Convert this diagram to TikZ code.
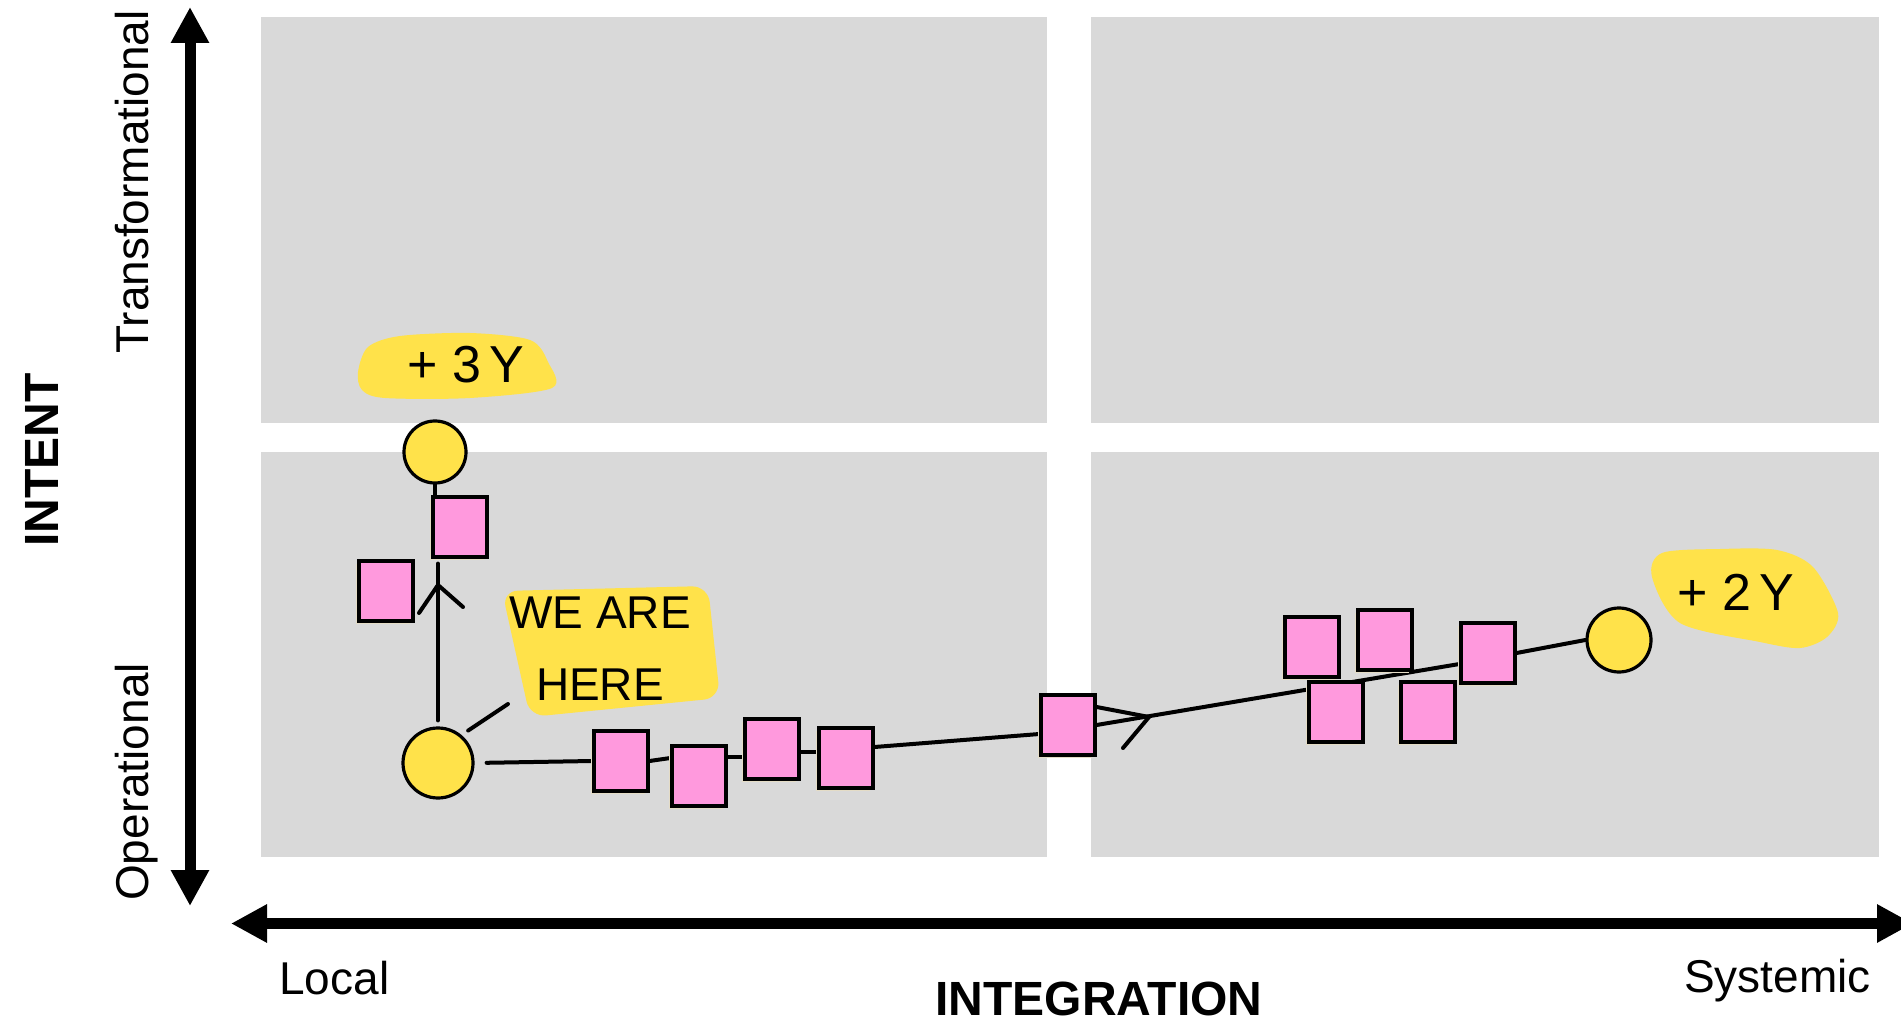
\documentclass[tikz,border=0pt]{standalone}
\usepackage{fontspec}
\setmainfont{Liberation Sans}
\usetikzlibrary{arrows.meta,backgrounds,shadows}
\definecolor{gryQ}{HTML}{D9D9D9}
\definecolor{pnk}{HTML}{FF99DD}
\definecolor{ylw}{HTML}{FFE24A}
\definecolor{bge}{HTML}{E4DCC6}
\tikzset{
  panel/.style  ={fill=gryQ},
  axis/.style   ={line width=5.5pt, {Triangle[length=18pt,width=18pt]}-{Triangle[length=18pt,width=18pt]}},
  axlbl/.style  ={font=\fontsize{23}{27}\selectfont, inner sep=0pt},
  axttl/.style  ={font=\fontsize{24}{28}\selectfont\bfseries, inner sep=0pt},
  hand/.style   ={font=\fontsize{23}{36}\selectfont, inner sep=0pt, align=center},
  sticky/.style ={draw=black, fill=pnk, line width=1.6pt, minimum width=27pt, minimum height=30pt,
                  inner sep=0pt, drop shadow={shadow xshift=-1.5pt, shadow yshift=-1.5pt, fill=bge, opacity=1}},
  spot/.style   ={circle, draw=black, fill=ylw, line width=1.6pt, inner sep=0pt, minimum size=#1},
  spot/.default =32pt,
  link/.style   ={line width=2pt, draw=black, line cap=round},
  hl/.style     ={fill=ylw},
}
\begin{document}
\begin{tikzpicture}[x=0.5pt,y=-0.5pt]
  \useasboundingbox (0,0) rectangle (1901,1026);
  % quadrants
  \begin{scope}[on background layer]
    \fill[panel] (261,17) rectangle (1047,423);
    \fill[panel] (1091,17) rectangle (1879,423);
    \fill[panel] (261,452) rectangle (1047,857);
    \fill[panel] (1091,452) rectangle (1879,857);
  \end{scope}
  % axes
  \coordinate (yTop) at (190,7);
  \coordinate (yBot) at (190,906);
  \coordinate (xLeft) at (231,923.5);
  \coordinate (xRight) at (1913,923.5);
  \draw[axis] (yBot) -- (yTop);
  \draw[axis] (xLeft) -- (xRight);
  \node[axlbl, rotate=90, anchor=base] (trans) at (148,182) {Transformational};
  \node[axlbl, rotate=90, anchor=base] (oper) at (148,782) {Operational};
  \node[axttl, rotate=90, anchor=base] (intent) at (58,460) {INTENT};
  \node[axlbl, anchor=base west] (local) at (279,994) {Local};
  \node[axlbl, anchor=base east] (syst) at (1871,992) {Systemic};
  \node[axttl, anchor=base] (integ) at (1099,1015) {INTEGRATION};
  % highlights
  \fill[hl] plot[smooth cycle] coordinates {(358,372) (368,347) (400,336) (470,333) (530,340) (548,362) (552,388) (470,398) (385,398) (362,390)};
  \fill[hl] plot[smooth cycle] coordinates {(1652,577) (1662,553) (1720,549) (1777,550) (1813,567) (1838,613) (1827,637) (1800,648) (1760,642) (1680,623)};
  \fill[hl, rounded corners=8pt] (502,591) -- (708,586) -- (720,698) -- (530,717) -- cycle;
  \node[hand, font=\fontsize{26}{30}\selectfont, anchor=base] (plus3) at (466,383) {+~3\,Y};
  \node[hand, font=\fontsize{26}{30}\selectfont, anchor=base] (plus2) at (1736,610) {+~2\,Y};
  \node[hand] (here) at (600,649) {WE ARE\\HERE};
  % stickies
  \node[sticky] (s1) at (386,591) {};
  \node[sticky] (s2) at (460,527) {};
  \node[sticky] (s3) at (621,761) {};
  \node[sticky] (s4) at (699,776) {};
  \node[sticky] (s5) at (772,749) {};
  \node[sticky] (s6) at (846,758) {};
  \node[sticky] (s7) at (1068,725) {};
  \node[sticky] (s8) at (1312,647) {};
  \node[sticky] (s9) at (1385,640) {};
  \node[sticky] (s10) at (1336,712) {};
  \node[sticky] (s11) at (1428,712) {};
  \node[sticky] (s12) at (1488,653) {};
  % milestones
  \node[spot=35pt] (A) at (438,763) {};
  \node[spot=31pt] (B) at (435,452) {};
  \node[spot=32pt] (C) at (1619,640) {};
  % paths, behind the stickies
  \coordinate (upTip) at (438,585);
  \coordinate (upW1) at (419,613);
  \coordinate (upW2) at (463,607);
  \coordinate (rtTip) at (1149,717);
  \coordinate (rtW) at (1123,748);
  \coordinate (hereTail) at (508,704);
  \begin{scope}[on background layer]
    \draw[link, shorten <=3pt, shorten >=2.5pt] (A.north) -- (A.north |- s2.south);
    \draw[link] (upW1) -- (upTip) -- (upW2);
    \draw[link] (B.south) -- (B.south |- s2.north);
    \draw[link, shorten <=4pt] (A.50) -- (hereTail);
    \draw[link, shorten <=6pt] (A.east) -- (s3.west);
    \draw[link] (s3.east) -- ([yshift=9pt]s4.west);
    \draw[link] ([yshift=9.5pt]s4.east) -- ([yshift=-4pt]s5.west);
    \draw[link] ([yshift=-1.5pt]s5.east) -- ([yshift=3pt]s6.west);
    \draw[link] ([yshift=5.5pt]s6.east) -- ([yshift=-4.5pt]s7.west);
    \draw[link] (s7.east) -- ([yshift=-5.5pt]s12.west);
    \draw[link] ([yshift=9pt]s7.east) -- (rtTip) -- (rtW);
    \draw[link] (s12.east) -- (C.west);
  \end{scope}
\end{tikzpicture}
\end{document}
